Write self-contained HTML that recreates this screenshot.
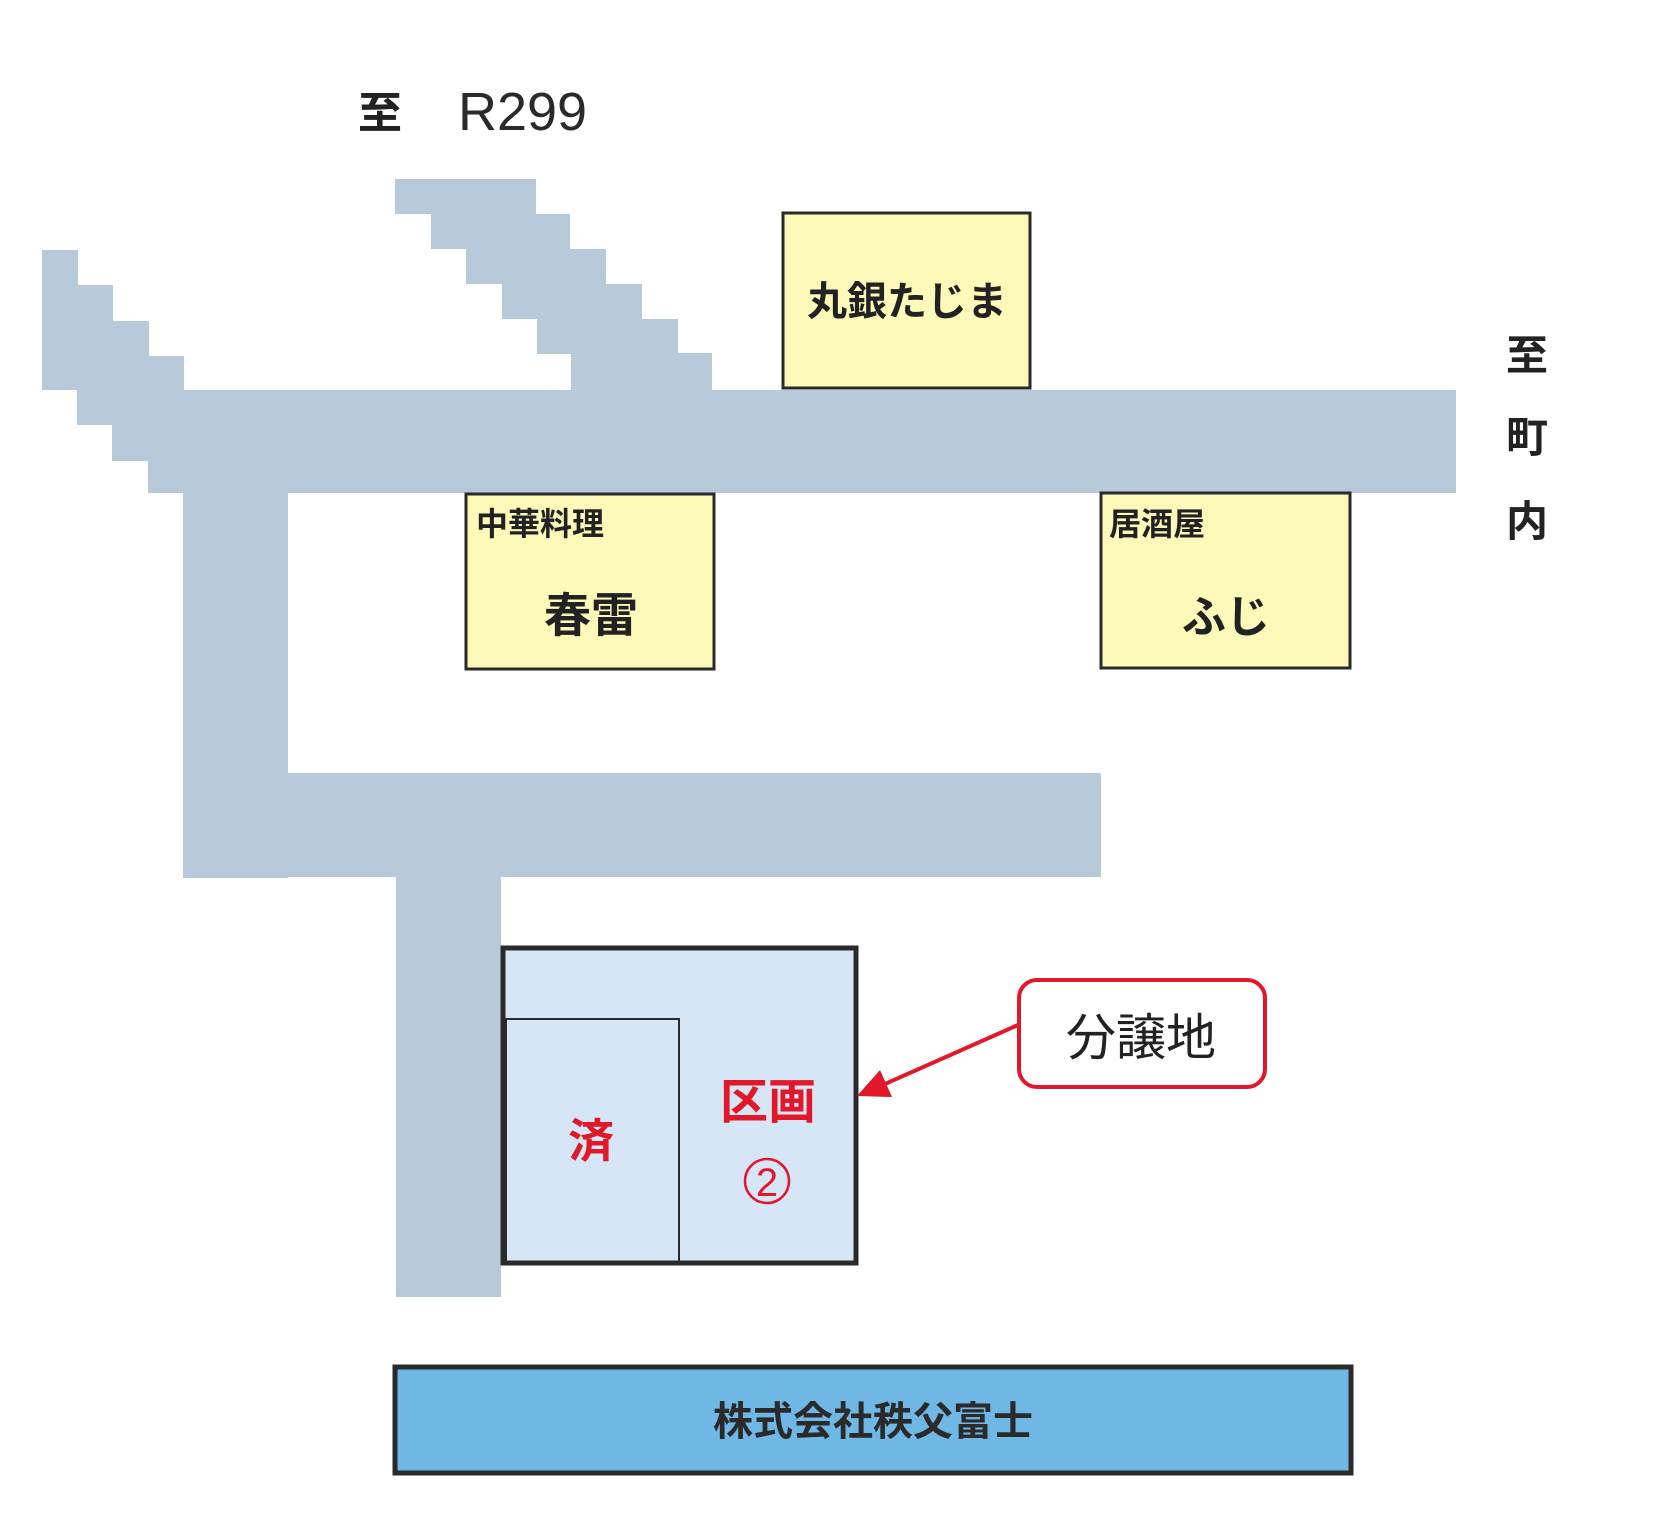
<!DOCTYPE html>
<html><head><meta charset="utf-8"><style>
html,body{margin:0;padding:0;background:#fff;}
svg{display:block}
text{font-family:"Liberation Sans","Noto Sans CJK JP",sans-serif;}
</style></head><body>
<svg width="1654" height="1539" viewBox="0 0 1654 1539" xmlns="http://www.w3.org/2000/svg">
<rect width="1654" height="1539" fill="#fff"/>
<g fill="#b8c9da">
<rect x="42" y="250" width="36" height="140"/>
<rect x="77" y="285" width="36" height="140"/>
<rect x="112" y="321" width="37" height="140"/>
<rect x="148" y="356" width="36" height="137"/>
<rect x="395" y="179" width="141" height="35"/>
<rect x="431" y="214" width="139" height="35"/>
<rect x="466" y="249" width="140" height="35"/>
<rect x="502" y="284" width="140" height="35"/>
<rect x="537" y="319" width="141" height="35"/>
<rect x="571" y="353" width="141" height="40"/>
<rect x="148" y="390" width="1308" height="103"/>
<rect x="183" y="490" width="105" height="388"/>
<rect x="183" y="773" width="918" height="104"/>
<rect x="396" y="875" width="105" height="422"/>
</g>
<g fill="#fcf9b9" stroke="#2a2a2a" stroke-width="3">
<rect x="783" y="213" width="247" height="175"/>
<rect x="466" y="494" width="248" height="175"/>
<rect x="1101" y="493" width="249" height="175"/>
</g>
<g fill="#222" font-weight="bold">
<text x="907" y="315" font-size="40" text-anchor="middle">丸銀たじま</text>
<text x="476" y="535" font-size="32">中華料理</text>
<text x="591" y="632" font-size="47" text-anchor="middle">春雷</text>
<text x="1109" y="535" font-size="32">居酒屋</text>
<text x="1226" y="632" font-size="44" text-anchor="middle">ふじ</text>
<text x="358" y="128" font-size="44">至</text>
<text x="1527" y="370" font-size="42" text-anchor="middle">至</text>
<text x="1527" y="452" font-size="42" text-anchor="middle">町</text>
<text x="1527" y="536" font-size="42" text-anchor="middle">内</text>
</g>
<text x="458" y="130" font-size="54" fill="#2a2a2a">R299</text>
<rect x="503" y="948" width="353" height="315" fill="#d7e6f6" stroke="#2a2a2a" stroke-width="5"/>
<rect x="506" y="1019" width="173" height="243" fill="none" stroke="#2a2a2a" stroke-width="2"/>
<g fill="#e0182a" font-weight="bold">
<text x="591" y="1157" font-size="46" text-anchor="middle">済</text>
<text x="768" y="1118" font-size="48" text-anchor="middle">区画</text>
</g>
<circle cx="767" cy="1181" r="22" fill="none" stroke="#e0182a" stroke-width="2.5"/>
<text x="767" y="1196" font-size="40" fill="#e0182a" text-anchor="middle">2</text>
<rect x="1019" y="980" width="246" height="107" rx="18" fill="#fff" stroke="#e0182a" stroke-width="4"/>
<text x="1141" y="1055" font-size="50" fill="#222" text-anchor="middle">分譲地</text>
<line x1="1018" y1="1025" x2="885" y2="1084" stroke="#e0182a" stroke-width="4"/>
<polygon points="857,1096 880,1070 892,1097" fill="#e0182a"/>
<rect x="395" y="1367" width="956" height="106" fill="#6fb8e6" stroke="#2a2a2a" stroke-width="5"/>
<text x="873" y="1435" font-size="40" font-weight="bold" fill="#2a2a2a" text-anchor="middle">株式会社秩父富士</text>
</svg>
</body></html>
